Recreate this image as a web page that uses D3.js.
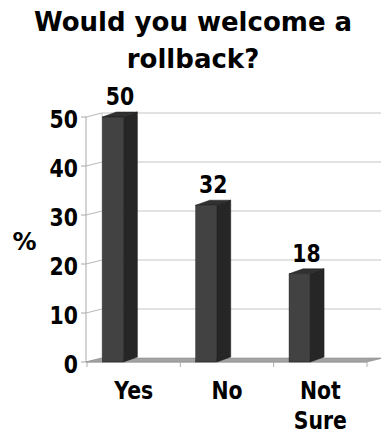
<!DOCTYPE html>
<html><head><meta charset="utf-8">
<script src="https://cdn.jsdelivr.net/npm/d3@7"></script>
<style>
html,body{margin:0;padding:0;background:#fff;}
svg{display:block;}
text{font-family:"DejaVu Sans",Verdana,sans-serif;font-weight:bold;fill:#000;}
</style></head>
<body><svg id="c" width="381" height="435"></svg>
<script>
const categories = ["Yes", "No", "Not Sure"];
const values = [50, 32, 18];
const yTicks = [0, 10, 20, 30, 40, 50];
const titleLines = ["Would you welcome a", "rollback?"];
const yLabel = "%";

const svg = d3.select("#c");
const W = 381, H = 435;

// geometry
const x0 = 86, x1 = 367;           // front floor edge
const wallDx = 16, wallDy = -4;    // depth of walls
const barDx = 14, barDy = -5;      // bar depth
const y = d3.scaleLinear().domain([0, 50]).range([362, 117]);
const x = d3.scaleBand().domain(categories).range([x0 + 1, x1]).paddingInner(0).paddingOuter(0);
const bw = x.bandwidth();
const barOff = bw * 0.165, barW = bw * 0.225;

// title
svg.append("g").selectAll("text").data(titleLines).join("text")
  .attr("x", 193).attr("y", (d, i) => 31 + i * 36.5)
  .attr("text-anchor", "middle").style("font-size", "26px").text(d => d);

// y label
svg.append("text").attr("x", 24.5).attr("y", 250).attr("text-anchor", "middle")
  .style("font-size", "24px").text(yLabel);

// back wall gridlines
const grid = svg.append("g");
yTicks.forEach(t => {
  const yy = y(t);
  if (t > 0) {
    grid.append("line").attr("x1", x0 + wallDx).attr("x2", W + 2)
      .attr("y1", yy + wallDy).attr("y2", yy + wallDy)
      .attr("stroke", "#c4c4c4").attr("stroke-width", 1);
  }
  grid.append("line").attr("x1", x0).attr("x2", x0 + wallDx)
    .attr("y1", yy).attr("y2", yy + wallDy)
    .attr("stroke", "#b8b8b8").attr("stroke-width", 1);
  grid.append("line").attr("x1", x0 - 5).attr("x2", x0)
    .attr("y1", yy).attr("y2", yy).attr("stroke", "#a8a8a8");
});
// back wall left edge & side wall front axis
grid.append("line").attr("x1", x0 + wallDx).attr("x2", x0 + wallDx)
  .attr("y1", y(50) + wallDy).attr("y2", y(0) + wallDy).attr("stroke", "#c4c4c4");
grid.append("line").attr("x1", x0).attr("x2", x0)
  .attr("y1", y(50)).attr("y2", y(0)).attr("stroke", "#a8a8a8");

// floor
const fy = y(0);
svg.append("path")
  .attr("d", `M${x0},${fy} L${x1},${fy} L${x1 + wallDx},${fy + wallDy} L${x0 + wallDx},${fy + wallDy} Z`)
  .attr("fill", "#a3a3a3").attr("stroke", "#8c8c8c").attr("stroke-width", 0.6);

// x axis ticks
const xt = [...categories.map(c => x(c)), x1];
svg.append("g").selectAll("line").data(xt).join("line")
  .attr("x1", d => d).attr("x2", d => d).attr("y1", fy).attr("y2", fy + 5)
  .attr("stroke", "#b0b0b0");
svg.append("line").attr("x1", x0).attr("x2", x1).attr("y1", fy).attr("y2", fy)
  .attr("stroke", "#9a9a9a");

// bars
const bars = svg.append("g");
categories.forEach((c, i) => {
  const v = values[i];
  const bx = x(c) + barOff, top = y(v), bot = y(0);
  bars.append("path")
    .attr("d", `M${bx + barW},${top} L${bx + barW + barDx},${top + barDy} L${bx + barW + barDx},${bot + barDy} L${bx + barW},${bot} Z`)
    .attr("fill", "#262626").attr("stroke", "#1a1a1a").attr("stroke-width", 0.5);
  bars.append("path")
    .attr("d", `M${bx},${top} L${bx + barW},${top} L${bx + barW + barDx},${top + barDy} L${bx + barDx},${top + barDy} Z`)
    .attr("fill", "#313131").attr("stroke", "#1a1a1a").attr("stroke-width", 0.5);
  bars.append("rect").attr("x", bx).attr("y", top).attr("width", barW).attr("height", bot - top)
    .attr("fill", "#424242").attr("stroke", "#1e1e1e").attr("stroke-width", 0.5);
  // value label
  bars.append("text")
    .attr("transform", `translate(${bx + (barW + barDx) / 2},${top - 12}) scale(0.85,1)`)
    .attr("text-anchor", "middle").style("font-size", "24px").text(v);
});

// y tick labels
svg.append("g").selectAll("text").data(yTicks).join("text")
  .attr("transform", d => `translate(78,${y(d) + 11}) scale(0.85,1)`)
  .attr("text-anchor", "end").style("font-size", "24px").text(d => d);

// category labels
categories.forEach(c => {
  const words = c.split(" ");
  words.forEach((w, j) => {
    svg.append("text")
      .attr("transform", `translate(${x(c) + bw / 2},${398.5 + j * 30.5}) scale(0.85,1)`)
      .attr("text-anchor", "middle").style("font-size", "24px").text(w);
  });
});
</script></body></html>
